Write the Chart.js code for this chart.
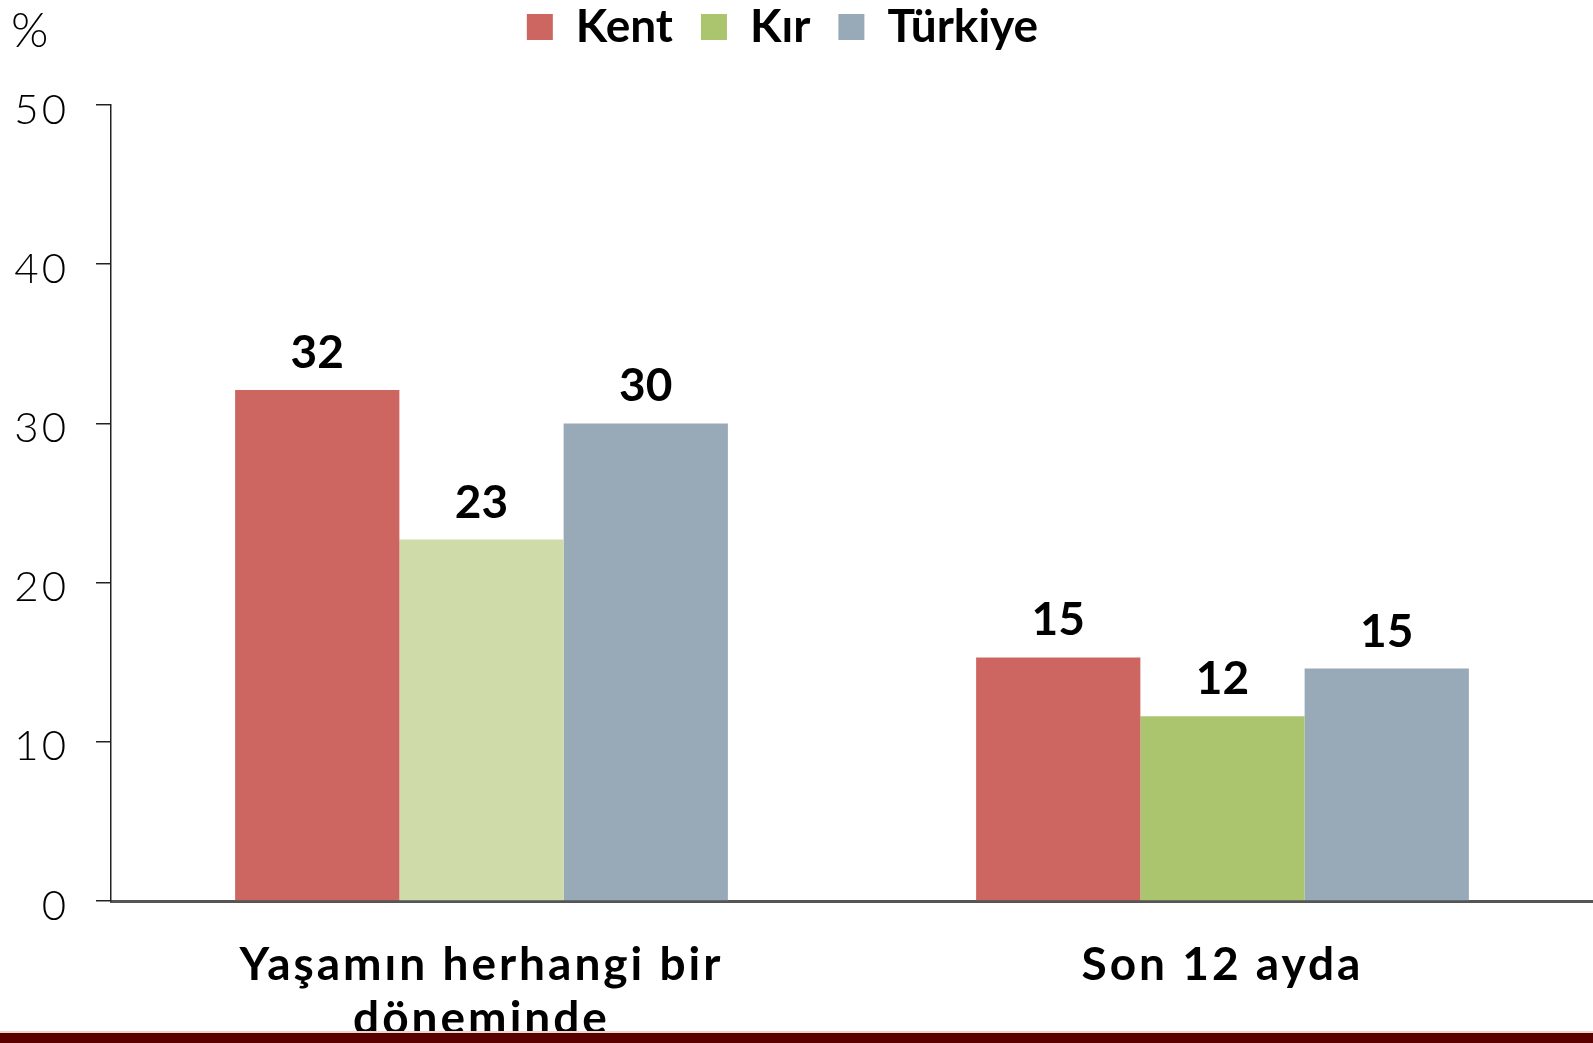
<!DOCTYPE html>
<html>
<head>
<meta charset="utf-8">
<script src="https://cdn.jsdelivr.net/npm/chart.js@4"></script>
<style>
  html, body { margin: 0; padding: 0; background: #fff; }
  #wrap { position: relative; width: 1593px; height: 1043px; }
  #band { position: absolute; left: 0; right: 0; bottom: 0; height: 10px; background: #5a0000; border-top: 2px solid #ead3cf; }
</style>
</head>
<body>
<div id="wrap">
  <canvas id="chart" width="1593" height="1043"></canvas>
  <div id="band"></div>
</div>
<script>
const categories = [["Yaşamın herhangi bir", "döneminde"], "Son 12 ayda"];
const seriesNames = ["Kent", "Kır", "Türkiye"];
const kentValues = [32.1, 15.3];
const kirValues = [22.7, 11.6];
const turkiyeValues = [30.0, 14.6];
const yTicks = [0, 10, 20, 30, 40, 50];

const kentColor = "#cd6560";
const kirColors = ["#cfdcaa", "#abc46e"];
const turkiyeColor = "#98a9b7";
const legendColors = [kentColor, "#abc46e", turkiyeColor];

const fontFamily = "Lato, 'Open Sans', sans-serif";
const chartCanvas = document.getElementById("chart");

// the original font is wider than Lato, so spread the axis letters a little
const spacingPlugin = {
  id: "letterSpacing",
  beforeUpdate(chart) { chart.ctx.letterSpacing = "3px"; },
  beforeDraw(chart) { chart.ctx.letterSpacing = "3px"; },
  afterInit(chart) {
    const legend = chart.legend;
    const fit = legend.fit;
    const draw = legend.draw;
    legend.fit = function () {
      const ctx = this.ctx;
      const prev = ctx.letterSpacing;
      ctx.letterSpacing = "0px";
      fit.call(this);
      ctx.letterSpacing = prev;
      this.height = 105;
    };
    // legend padding is also the gap between items; pull the row back up
    legend.draw = function () {
      const ctx = this.ctx;
      const prev = ctx.letterSpacing;
      ctx.save();
      ctx.letterSpacing = "0px";
      ctx.translate(-14, -24);
      draw.call(this);
      ctx.restore();
      ctx.letterSpacing = prev;
    };
  }
};

const valueLabelPlugin = {
  id: "valueLabels",
  afterDatasetsDraw(chart) {
    const { ctx } = chart;
    ctx.save();
    ctx.letterSpacing = "0px";
    ctx.fillStyle = "#000";
    ctx.font = `bold 46px ${fontFamily}`;
    ctx.textAlign = "center";
    ctx.textBaseline = "alphabetic";
    chart.data.datasets.forEach((ds, i) => {
      const meta = chart.getDatasetMeta(i);
      meta.data.forEach((bar, j) => {
        ctx.fillText(String(Math.round(ds.data[j])), bar.x, bar.y - 22);
      });
    });
    ctx.restore();
  }
};

const percentPlugin = {
  id: "percentSign",
  afterDraw(chart) {
    const { ctx } = chart;
    ctx.save();
    ctx.letterSpacing = "0px";
    ctx.fillStyle = "#000";
    ctx.font = `300 48px ${fontFamily}`;
    ctx.textAlign = "left";
    ctx.textBaseline = "top";
    ctx.fillText("%", 11, 8);
    ctx.restore();
  }
};

new Chart(chartCanvas, {
  type: "bar",
  data: {
    labels: categories,
    datasets: [
      { label: seriesNames[0], data: kentValues, backgroundColor: kentColor },
      { label: seriesNames[1], data: kirValues, backgroundColor: kirColors },
      { label: seriesNames[2], data: turkiyeValues, backgroundColor: turkiyeColor }
    ]
  },
  options: {
    responsive: false,
    animation: false,
    layout: { padding: 0 },
    datasets: {
      bar: { categoryPercentage: 0.665, barPercentage: 1.0 }
    },
    plugins: {
      tooltip: { enabled: false },
      legend: {
        position: "top",
        labels: {
          boxWidth: 26,
          boxHeight: 26,
          padding: 28,
          color: "#000",
          font: { family: fontFamily, size: 46, weight: "bold" },
          generateLabels(chart) {
            return chart.data.datasets.map((ds, i) => ({
              text: ds.label,
              fillStyle: legendColors[i],
              strokeStyle: legendColors[i],
              lineWidth: 0,
              datasetIndex: i
            }));
          }
        }
      }
    },
    scales: {
      x: {
        grid: { display: false, drawTicks: false },
        border: { display: true, color: "#555", width: 3 },
        ticks: {
          color: "#000",
          padding: 37,
          font: { family: fontFamily, size: 46, weight: "bold", lineHeight: 1.18 }
        },
        afterFit(scale) { scale.height = 142; }
      },
      y: {
        min: 0,
        max: 50,
        afterBuildTicks(scale) { scale.ticks = yTicks.map((v) => ({ value: v })); },
        grid: { drawOnChartArea: false, drawTicks: true, tickLength: 15, color: "#222", lineWidth: 1.5 },
        border: { display: true, color: "#222", width: 1.5 },
        ticks: {
          color: "#000",
          padding: 27,
          labelOffset: 5,
          font: { family: fontFamily, size: 42, weight: "300" }
        },
        afterFit(scale) { scale.width = 111; }
      }
    }
  },
  plugins: [spacingPlugin, valueLabelPlugin, percentPlugin]
});
</script>
</body>
</html>
